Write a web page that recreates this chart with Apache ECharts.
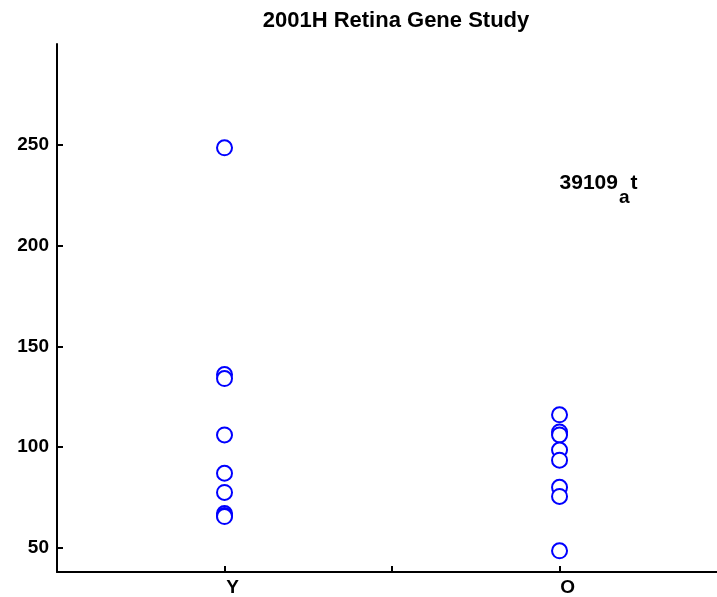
<!DOCTYPE html>
<html>
<head>
<meta charset="utf-8">
<script src="https://cdn.jsdelivr.net/npm/echarts@6/dist/echarts.min.js"></script>
<style>html,body{margin:0;padding:0;background:#fff;}#c{width:717px;height:597px;}</style>
</head>
<body>
<div id="c"></div>
<script>
const chartTitle = "2001H Retina Gene Study";
const groupNames = ["Y", "O"];
const groupPositions = [1, 2];
const youngValues = [248.5, 136, 134, 106, 87, 77.5, 67, 66, 65.5];
const oldValues = [116, 107.5, 106, 98.5, 93.5, 80, 75.5, 48.5];
const yTickValues = [50, 100, 150, 200, 250];
const xTickValues = [1, 1.5, 2];
const annotationText = ["39109", "a", "t"];
const annotationPos = [2, 227.5];

const FONT = 'Liberation Sans, Arial, sans-serif';
const chart = echarts.init(document.getElementById('c'));
const pts = [];
youngValues.forEach(v => pts.push([groupPositions[0], v]));
oldValues.forEach(v => pts.push([groupPositions[1], v]));

chart.setOption({
  animation: false,
  backgroundColor: '#fff',
  title: {
    text: chartTitle, left: 391, top: 5, textAlign: 'center',
    textStyle: {fontFamily: FONT, fontWeight: 'bold', fontSize: 22, color: '#000'}
  },
  grid: {left: 57, top: 44, right: 0, bottom: 24, containLabel: false},
  xAxis: {
    type: 'value', min: 0.5, max: 2.47,
    axisLine: {show: true, onZero: false, lineStyle: {color: '#000', width: 2}},
    axisTick: {show: true, inside: true, length: 6, lineStyle: {color: '#000', width: 2}, customValues: xTickValues},
    axisLabel: {
      customValues: groupPositions, margin: 6, padding: [0, 0, 0, 16],
      formatter: v => groupNames[groupPositions.indexOf(v)] || '',
      fontFamily: FONT, fontWeight: 'bold', fontSize: 19, color: '#000'
    },
    splitLine: {show: false}
  },
  yAxis: {
    type: 'value', min: 38, max: 300,
    axisLine: {show: true, onZero: false, lineStyle: {color: '#000', width: 2}},
    axisTick: {show: true, inside: true, length: 6, lineStyle: {color: '#000', width: 2}, customValues: yTickValues},
    axisLabel: {
      customValues: yTickValues, margin: 8,
      fontFamily: FONT, fontWeight: 'bold', fontSize: 19, color: '#000'
    },
    splitLine: {show: false}
  },
  series: [
    {
      type: 'scatter', data: pts, symbol: 'emptyCircle', symbolSize: 15,
      itemStyle: {color: '#0000ff', borderColor: '#0000ff', borderWidth: 3, opacity: 1}
    },
    {
      type: 'scatter', data: [annotationPos], symbolSize: 0, silent: true,
      itemStyle: {opacity: 1},
      label: {
        show: true, position: 'right', distance: 0, color: '#000', textBorderWidth: 0,
        formatter: '{n|' + annotationText[0] + '}{s|' + annotationText[1] + '}{n|' + annotationText[2] + '}',
        rich: {
          n: {fontFamily: FONT, fontWeight: 'bold', fontSize: 21, color: '#000', verticalAlign: 'top', lineHeight: 22},
          s: {fontFamily: FONT, fontWeight: 'bold', fontSize: 19, color: '#000', verticalAlign: 'bottom', lineHeight: 34, padding: [0, 1, 0, 1]}
        }
      }
    }
  ]
});
</script>
</body>
</html>
